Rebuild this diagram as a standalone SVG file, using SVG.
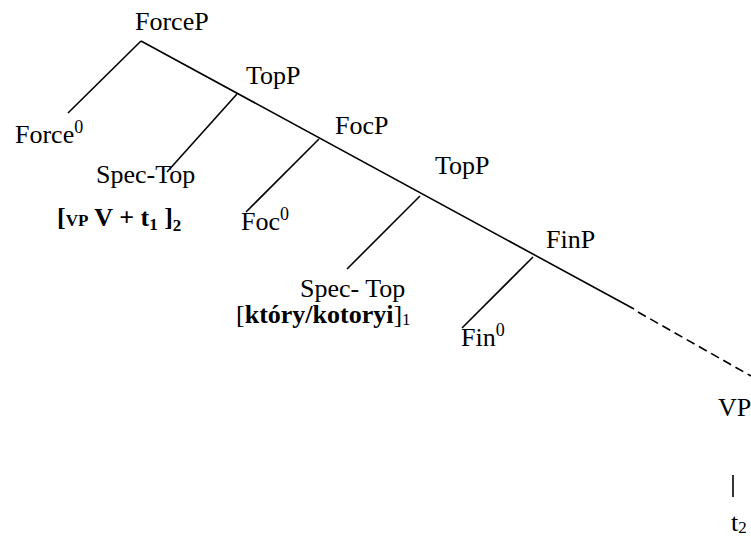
<svg xmlns="http://www.w3.org/2000/svg" width="751" height="536" viewBox="0 0 751 536">
<style>
text{font-family:"Liberation Serif",serif;font-size:26px;fill:#000}
.b{font-weight:bold}
.sup{font-size:18px}
.sub{font-size:17px}
line{stroke:#000;stroke-width:1.6;fill:none}
.dash{stroke-dasharray:9 5}
</style>
<rect width="751" height="536" fill="#fff"/>
<g id="connectors">
<line x1="141" y1="41" x2="634" y2="309"/>
<line class="dash" x1="638" y1="312" x2="751" y2="376"/>
<line x1="141" y1="41" x2="68" y2="113"/>
<line x1="237" y1="94" x2="167" y2="172"/>
<line x1="319" y1="139" x2="246" y2="212"/>
<line x1="420" y1="196" x2="347" y2="269"/>
<line x1="533" y1="257" x2="462" y2="328"/>
<line x1="733" y1="475" x2="733" y2="497"/>
</g>
<g id="ForceP"><text x="135" y="30" font-family="Liberation Serif">ForceP</text></g>
<g id="TopP1"><text x="246" y="84" font-family="Liberation Serif">TopP</text></g>
<g id="Force0"><text x="15" y="143" font-family="Liberation Serif">Force<tspan class="sup" dy="-10">0</tspan></text></g>
<g id="SpecTop1"><text x="96" y="183" font-family="Liberation Serif">Spec-Top</text>
<text class="b" x="57" y="226" font-family="Liberation Serif">[<tspan class="sub">VP</tspan> V + t<tspan class="sub" dy="4">1</tspan><tspan dy="-4"> ]</tspan><tspan class="sub" dy="5">2</tspan></text></g>
<g id="FocP"><text x="335" y="134" font-family="Liberation Serif">FocP</text></g>
<g id="Foc0"><text x="241" y="230" font-family="Liberation Serif">Foc<tspan class="sup" dy="-10">0</tspan></text></g>
<g id="TopP2"><text x="435" y="174" font-family="Liberation Serif">TopP</text></g>
<g id="FinP"><text x="546" y="248" font-family="Liberation Serif">FinP</text></g>
<g id="SpecTop2"><text x="300" y="297" font-family="Liberation Serif">Spec- Top</text>
<text x="236" y="323" font-family="Liberation Serif">[<tspan class="b">który/kotoryi</tspan>]<tspan class="sub" dy="2">1</tspan></text></g>
<g id="Fin0"><text x="461" y="346" font-family="Liberation Serif">Fin<tspan class="sup" dy="-10">0</tspan></text></g>
<g id="VP"><text x="718" y="416" font-family="Liberation Serif">VP</text></g>
<g id="t2"><text x="731" y="531" font-family="Liberation Serif">t<tspan class="sub" dy="2">2</tspan></text></g>
</svg>
